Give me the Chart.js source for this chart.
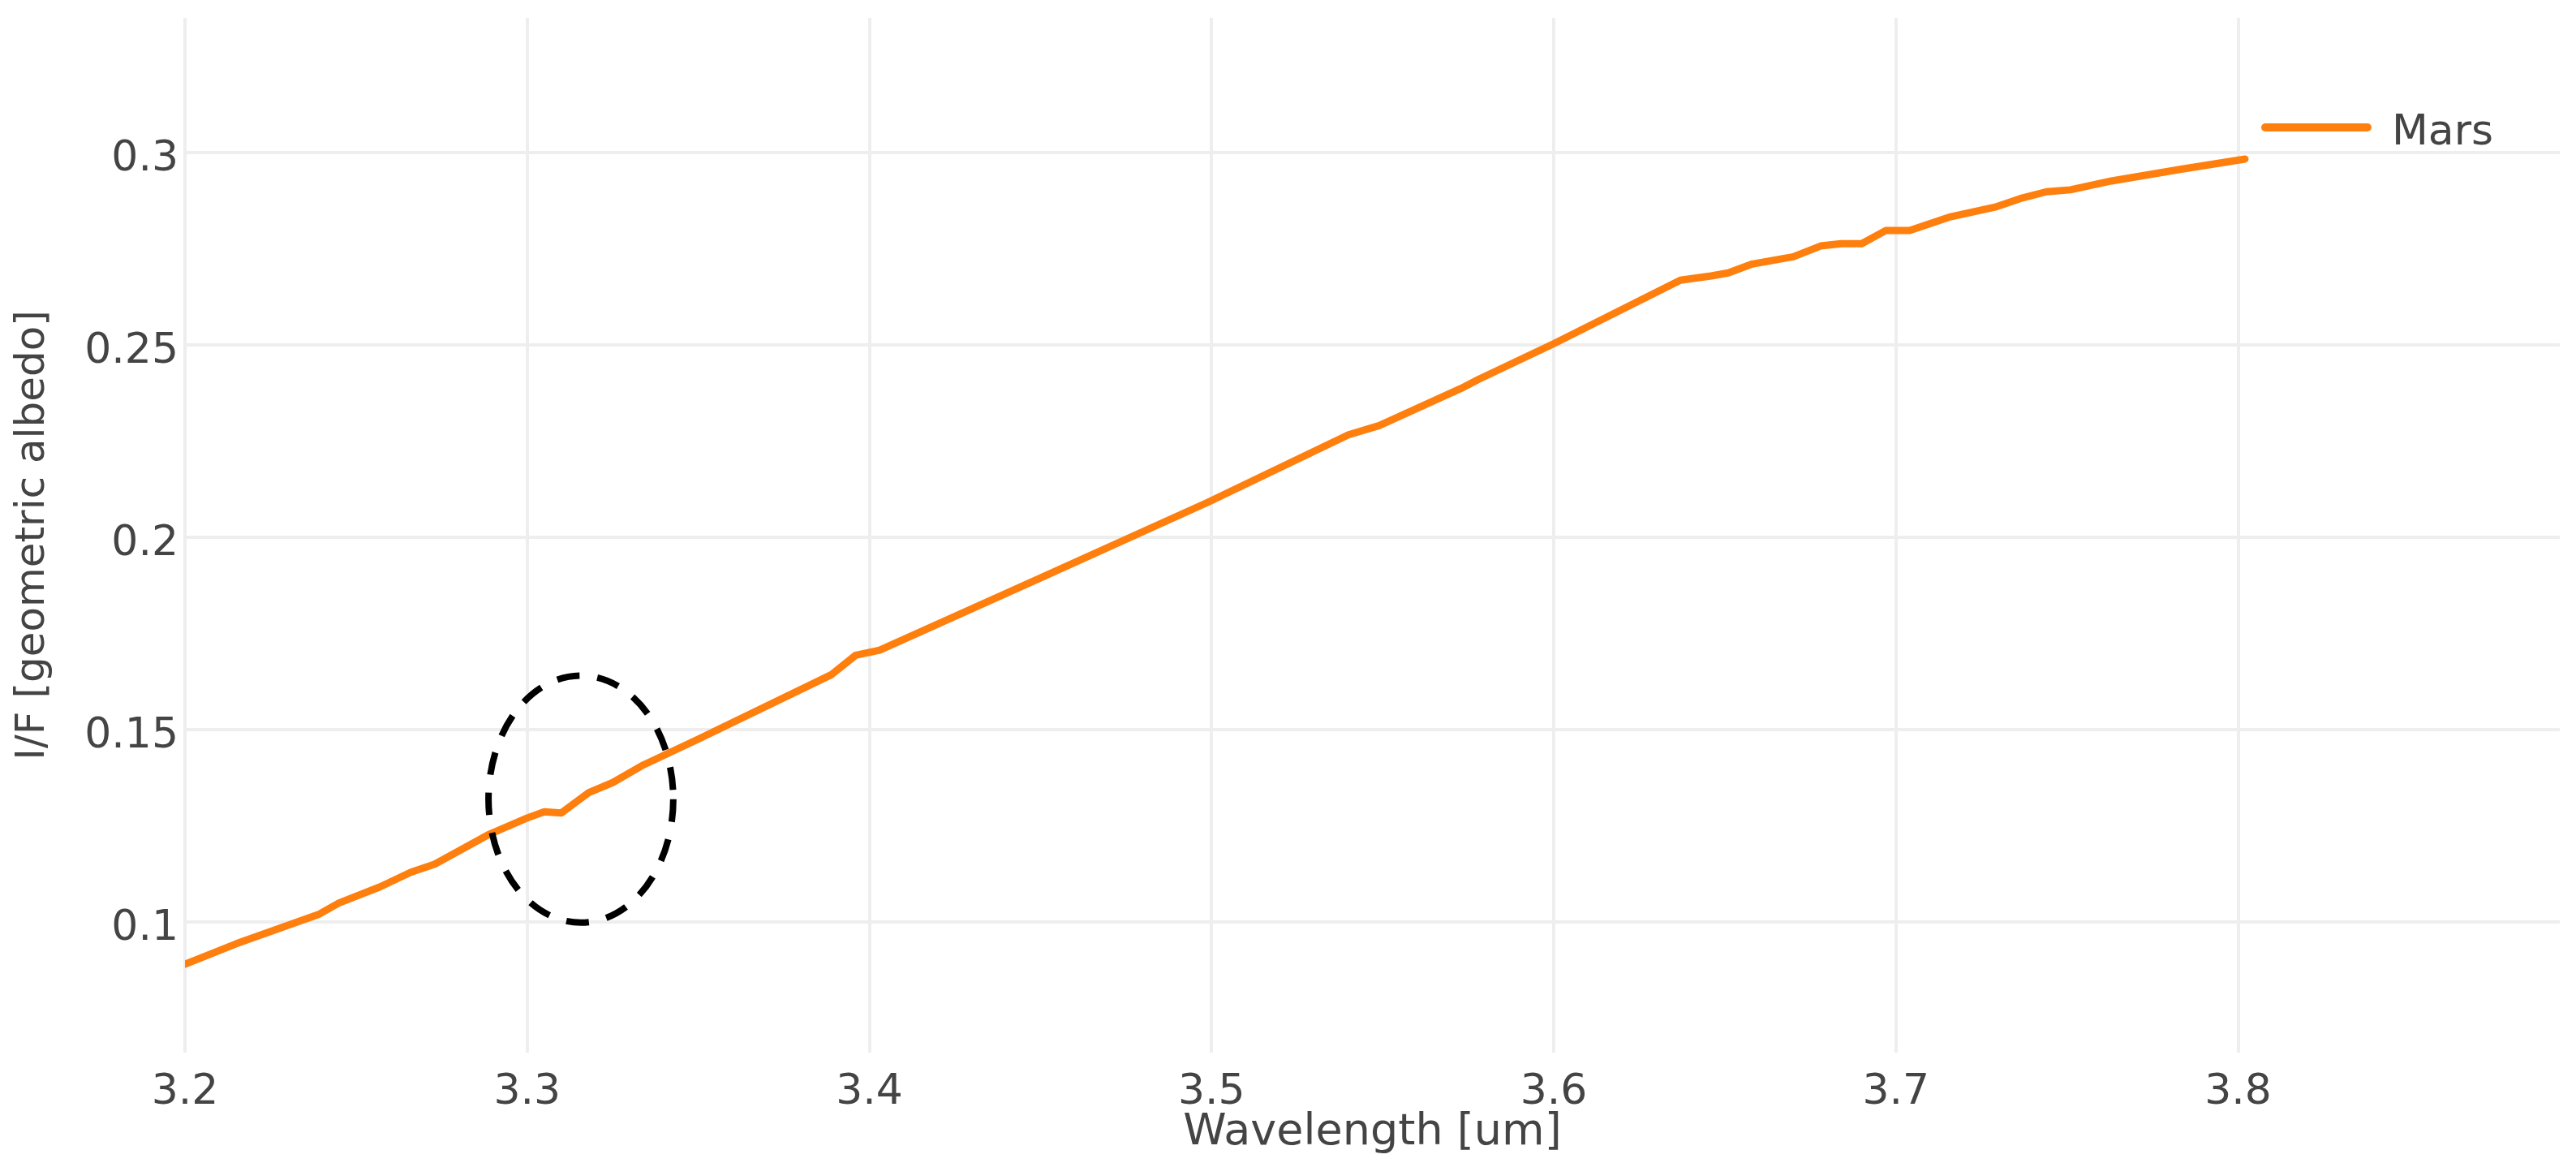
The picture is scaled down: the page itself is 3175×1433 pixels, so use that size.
<!DOCTYPE html>
<html>
<head>
<meta charset="utf-8">
<title>Mars I/F</title>
<script src="https://cdn.jsdelivr.net/npm/chart.js@4.4.1/dist/chart.umd.min.js"></script>
<style>
    html, body { margin: 0; padding: 0; background: #fff; }
    #chart { display: block; }
</style>
</head>
<body>
<canvas id="chart" width="3175" height="1433"></canvas>
<script>
// values
const wavelength = [
    3.200, 3.215, 3.239, 3.245, 3.257, 3.266, 3.273, 3.289, 3.300, 3.305,
    3.310, 3.318, 3.325, 3.334, 3.350, 3.389, 3.396, 3.403, 3.450, 3.499,
    3.540, 3.549, 3.573, 3.578, 3.600, 3.637, 3.646, 3.651, 3.658, 3.670,
    3.678, 3.684, 3.690, 3.697, 3.704, 3.716, 3.729, 3.737, 3.744, 3.751,
    3.763, 3.783, 3.802
];
const albedo = [
    0.0890, 0.0943, 0.1019, 0.1049, 0.1091, 0.1129, 0.1150, 0.1228, 0.1270, 0.1286,
    0.1283, 0.1336, 0.1362, 0.1408, 0.1475, 0.1643, 0.1693, 0.1706, 0.1894, 0.2091,
    0.2266, 0.2290, 0.2387, 0.2410, 0.2503, 0.2668, 0.2679, 0.2687, 0.2710, 0.2729,
    0.2757, 0.2763, 0.2763, 0.2797, 0.2797, 0.2833, 0.2858, 0.2882, 0.2898, 0.2903,
    0.2926, 0.2956, 0.2983
];
const xTicks = [3.2, 3.3, 3.4, 3.5, 3.6, 3.7, 3.8];
const yTicks = [0.1, 0.15, 0.2, 0.25, 0.3];
const seriesName = 'Mars';

// dashed ring round the 3.31 um feature, in data units
const highlight = { x: 3.3157, y: 0.1319, rx: 0.027, ry: 0.0321 };

const ORANGE = '#ff7f0e';
const GRID = '#eeeeee';

Chart.defaults.font.family = '"DejaVu Sans", Verdana, sans-serif';
Chart.defaults.color = '#444';

const ringPlugin = {
    id: 'ring',
    afterDatasetsDraw(chart) {
        const { ctx, scales: { x, y } } = chart;
        const cx = x.getPixelForValue(highlight.x);
        const cy = y.getPixelForValue(highlight.y);
        const rx = x.getPixelForValue(highlight.x + highlight.rx) - cx;
        const ry = cy - y.getPixelForValue(highlight.y + highlight.ry);
        ctx.save();
        ctx.strokeStyle = '#000';
        ctx.lineWidth = 8;
        ctx.setLineDash([28, 22]);
        ctx.beginPath();
        ctx.ellipse(cx, cy, rx, ry, 0, 0, Math.PI * 2);
        ctx.stroke();
        ctx.restore();
    }
};

// plotly-style legend sitting in the top right corner
const legendPlugin = {
    id: 'sideLegend',
    afterDraw(chart) {
        const { ctx } = chart;
        const ds = chart.data.datasets[0];
        ctx.save();
        ctx.strokeStyle = ds.borderColor;
        ctx.lineWidth = 10;
        ctx.lineCap = 'round';
        ctx.beginPath();
        ctx.moveTo(2792, 157);
        ctx.lineTo(2918, 157);
        ctx.stroke();
        ctx.fillStyle = '#444';
        ctx.font = '52px "DejaVu Sans", Verdana, sans-serif';
        ctx.textBaseline = 'alphabetic';
        ctx.fillText(ds.label, 2948, 178);
        ctx.restore();
    }
};

new Chart(document.getElementById('chart'), {
    type: 'line',
    data: {
        datasets: [{
            label: seriesName,
            data: wavelength.map((w, i) => ({ x: w, y: albedo[i] })),
            borderColor: ORANGE,
            borderWidth: 9,
            borderCapStyle: 'round',
            borderJoinStyle: 'round',
            pointRadius: 0,
            tension: 0,
            fill: false
        }]
    },
    options: {
        responsive: false,
        devicePixelRatio: 1,
        animation: false,
        layout: { padding: { top: 22, right: 20, left: 0, bottom: 0 } },
        plugins: {
            legend: { display: false },
            tooltip: { enabled: false }
        },
        scales: {
            x: {
                type: 'linear',
                min: 3.2,
                max: 3.894,
                afterBuildTicks: scale => { scale.ticks = xTicks.map(v => ({ value: v })); },
                afterFit: scale => {
                    scale.height = 136;
                    scale.paddingLeft = 0;
                    scale.paddingRight = 0;
                },
                grid: { color: GRID, lineWidth: 4, drawTicks: false },
                border: { display: false },
                ticks: {
                    padding: 18,
                    maxRotation: 0,
                    font: { size: 52 },
                    callback: v => String(v)
                },
                title: {
                    display: true,
                    text: 'Wavelength [um]',
                    font: { size: 54 },
                    padding: { top: 0, bottom: 5 }
                }
            },
            y: {
                type: 'linear',
                min: 0.066,
                max: 0.335,
                afterBuildTicks: scale => { scale.ticks = yTicks.map(v => ({ value: v })); },
                afterFit: scale => {
                    scale.width = 228;
                    scale.paddingTop = 0;
                    scale.paddingBottom = 0;
                },
                grid: { color: GRID, lineWidth: 4, drawTicks: false },
                border: { display: false },
                ticks: {
                    padding: 8,
                    labelOffset: 9,
                    font: { size: 52 },
                    callback: v => String(v)
                },
                title: {
                    display: true,
                    text: 'I/F [geometric albedo]',
                    font: { size: 50 },
                    padding: { top: 11, bottom: 0 }
                }
            }
        }
    },
    plugins: [ringPlugin, legendPlugin]
});
</script>
</body>
</html>
